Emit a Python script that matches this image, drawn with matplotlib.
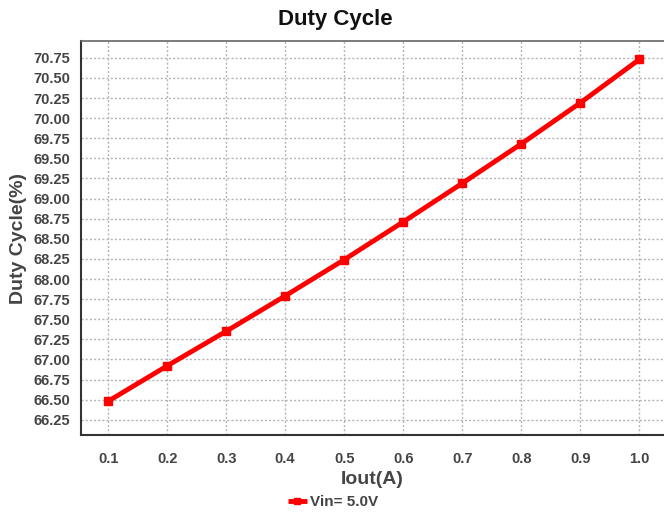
import matplotlib
matplotlib.use('Agg')
import matplotlib.pyplot as plt

# values
iout = [0.1, 0.2, 0.3, 0.4, 0.5, 0.6, 0.7, 0.8, 0.9, 1.0]
duty = [66.48, 66.92, 67.35, 67.79, 68.24, 68.71, 69.19, 69.68, 70.19, 70.73]
yticks = [66.25 + 0.25 * i for i in range(19)]
series_label = 'Vin= 5.0V'

plt.rcParams['font.family'] = ['Liberation Sans', 'DejaVu Sans']
plt.rcParams['font.weight'] = 'bold'

fig = plt.figure(figsize=(6.64, 5.16), dpi=100)
ax = fig.add_axes([81 / 664, 1 - 435 / 516, 1 - 81 / 664, (435 - 41) / 516])

line, = ax.plot(iout, duty, color='#ff0000', lw=3.5, marker='s', ms=5.5,
                label=series_label, solid_capstyle='butt', clip_on=False, zorder=3)

ax.set_xlim(0.054, 1.042)
ax.set_ylim(66.06, 70.96)
ax.set_xticks(iout)
ax.set_xticklabels([f'{v:.1f}' for v in iout])
ax.set_yticks(yticks)
ax.set_yticklabels([f'{v:.2f}' for v in yticks])
ax.tick_params(length=0, labelsize=10.5, labelcolor='#444444', pad=8)
ax.tick_params(axis='x', pad=12)

ax.grid(True, color='#b4b4b4', linestyle=(0, (1.5, 1.5)), lw=1)
ax.set_axisbelow(True)
for s in ('left', 'bottom'):
    ax.spines[s].set_color('#333333')
    ax.spines[s].set_linewidth(1.5)
ax.spines['top'].set_color('#666666')
ax.spines['top'].set_linewidth(1.2)
ax.spines['right'].set_visible(False)

ax.set_xlabel('Iout(A)', fontsize=14, color='#444444', fontweight='bold', labelpad=4)
ax.set_ylabel('Duty Cycle(%)', fontsize=14, color='#444444', fontweight='bold', labelpad=4)
fig.text(335 / 664, 1 - 20 / 516, 'Duty Cycle', ha='center', va='center',
         fontsize=16, fontweight='bold', color='#111111')

leg = fig.legend(handles=[line], loc='center', bbox_to_anchor=(333 / 664, 1 - 502 / 516),
                 frameon=False, fontsize=11, handlelength=1.2, handletextpad=0.2,
                 markerscale=0.8)
for t in leg.get_texts():
    t.set_color('#444444')

fig.savefig('out.png', dpi=100)
